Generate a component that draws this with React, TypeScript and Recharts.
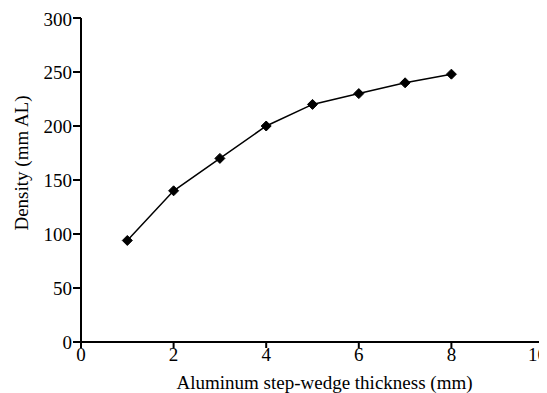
import { LineChart, Line, XAxis, YAxis, Label } from 'recharts';

const thickness = [1, 2, 3, 4, 5, 6, 7, 8];
const density = [94, 140, 170, 200, 220, 230, 240, 248];
const xTicks = [0, 2, 4, 6, 8, 10];
const yTicks = [0, 50, 100, 150, 200, 250, 300];

const data = thickness.map((t, i) => ({ t, density: density[i] }));

const font = 'Liberation Serif';

const Diamond = (props: any) => {
  const { cx, cy, index } = props;
  if (cx == null || cy == null) return null;
  const r = 5;
  return (
    <path
      key={`d-${index}`}
      d={`M${cx},${cy - r}L${cx + r},${cy}L${cx},${cy + r}L${cx - r},${cy}Z`}
      fill="#000"
      stroke="#000"
    />
  );
};

const tickStyle = { fill: '#000', fontSize: 19, fontFamily: font };

export default function App() {
  return (
    <LineChart
      width={539}
      height={385}
      data={data}
      margin={{ top: 10, right: 3, left: 0, bottom: 0 }}
    >
      <XAxis
        dataKey="t"
        type="number"
        domain={[0, 10]}
        ticks={xTicks}
        height={51}
        stroke="#000"
        strokeWidth={2}
        tickSize={6}
        tickMargin={0}
        tick={tickStyle}
        allowDataOverflow
      >
        <Label
          content={({ viewBox }: any) => (
            <text
              x={viewBox.x + viewBox.width / 2 + 12}
              y={viewBox.y + 47}
              textAnchor="middle"
              fontSize={19}
              fontFamily={font}
              fill="#000"
            >
              Aluminum step-wedge thickness (mm)
            </text>
          )}
        />
      </XAxis>
      <YAxis
        type="number"
        domain={[0, 300]}
        ticks={yTicks}
        width={73}
        stroke="#000"
        strokeWidth={2}
        tickSize={8}
        tickMargin={1}
        tick={tickStyle}
      >
        <Label
          content={({ viewBox }: any) => (
            <text
              x={viewBox.x + 13}
              y={viewBox.y + 145}
              textAnchor="middle"
              fontSize={19}
              fontFamily={font}
              fill="#000"
              transform={`rotate(-90, ${viewBox.x + 13}, ${viewBox.y + 145})`}
              dominantBaseline="central"
            >
              Density (mm AL)
            </text>
          )}
        />
      </YAxis>
      <Line
        type="linear"
        dataKey="density"
        stroke="#000"
        strokeWidth={1.5}
        dot={Diamond}
        activeDot={false}
        isAnimationActive={false}
      />
    </LineChart>
  );
}
